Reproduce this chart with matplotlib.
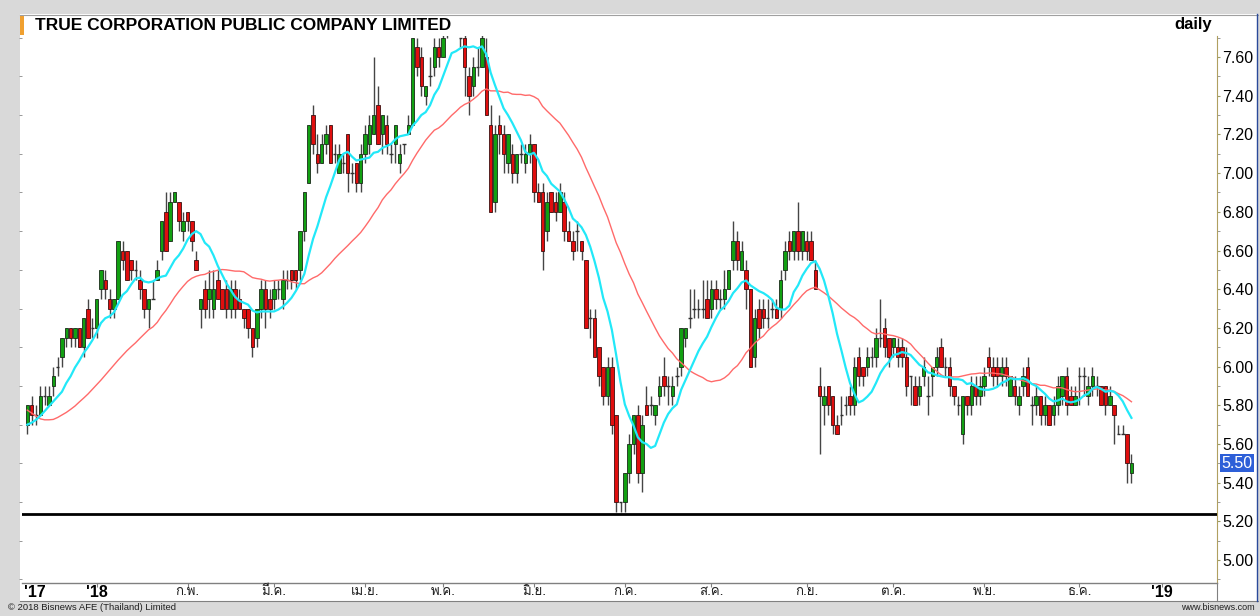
import numpy as np
import pandas as pd
import matplotlib
matplotlib.use("Agg")
import matplotlib.pyplot as plt
from matplotlib import font_manager, ft2font
from matplotlib.patches import Rectangle
from matplotlib.lines import Line2D

# ---------------- data ----------------
title = "TRUE CORPORATION PUBLIC COMPANY LIMITED"
period = "daily"

opens = [
    5.70,5.80,5.75,5.75,5.85,5.80,5.90,6.00,6.05,6.15,6.20,6.15,6.20,6.10,6.30,6.20,
    6.20,6.40,6.45,6.35,6.30,6.35,6.60,6.60,6.55,6.50,6.45,6.40,6.30,6.35,6.45,6.60,
    6.80,6.65,6.85,6.85,6.70,6.80,6.75,6.55,6.30,6.40,6.35,6.30,6.45,6.40,6.40,6.30,
    6.40,6.35,6.30,6.30,6.20,6.15,6.30,6.40,6.35,6.35,6.40,6.35,6.45,6.50,6.50,6.50,
    6.70,6.95,7.30,7.10,7.05,7.15,7.25,7.10,7.00,7.05,7.20,7.00,7.05,6.95,7.10,7.15,
    7.20,7.35,7.20,7.25,7.10,7.15,7.05,7.15,7.20,7.25,7.65,7.60,7.40,7.50,7.55,7.65,
    7.60,7.75,7.80,7.85,7.70,7.70,7.50,7.45,7.55,7.55,7.60,7.25,6.85,7.25,7.20,7.05,
    7.10,7.00,7.10,7.05,7.10,7.15,6.90,6.90,6.70,6.90,6.85,6.80,6.85,6.70,6.65,6.70,
    6.65,6.55,6.25,6.25,6.10,6.00,5.85,6.00,5.75,5.30,5.30,5.45,5.60,5.75,5.45,5.80,
    5.80,5.75,5.85,5.95,5.90,5.85,5.95,6.00,6.15,6.25,6.30,6.30,6.30,6.35,6.30,6.40,
    6.35,6.35,6.40,6.55,6.65,6.50,6.50,6.40,6.05,6.30,6.30,6.25,6.30,6.30,6.30,6.50,
    6.65,6.60,6.70,6.60,6.65,6.65,6.50,5.90,5.80,5.90,5.85,5.70,5.75,5.80,5.85,5.80,
    6.05,6.00,6.00,6.05,6.05,6.15,6.20,6.15,6.10,6.10,6.10,6.05,5.95,5.90,5.85,5.95,
    5.85,5.95,6.00,6.10,6.00,6.00,5.90,5.80,5.65,5.85,5.80,5.90,5.85,5.90,6.05,6.00,
    6.00,5.95,6.00,5.85,5.90,5.80,5.90,6.00,5.80,5.80,5.85,5.75,5.80,5.75,5.80,5.85,
    5.95,5.85,5.80,5.95,5.95,5.85,5.90,5.90,5.90,5.90,5.80,5.80,5.65,5.65,5.65,5.45,
]
highs = [
    5.80,5.85,5.80,5.90,5.90,5.90,6.00,6.05,6.15,6.20,6.20,6.20,6.20,6.25,6.35,6.25,
    6.35,6.50,6.50,6.40,6.35,6.65,6.65,6.60,6.55,6.55,6.50,6.40,6.35,6.45,6.55,6.75,
    6.90,6.90,6.90,6.85,6.80,6.80,6.75,6.60,6.35,6.45,6.50,6.50,6.50,6.40,6.45,6.45,
    6.45,6.40,6.30,6.30,6.20,6.30,6.45,6.45,6.40,6.45,6.45,6.50,6.50,6.50,6.50,6.70,
    6.90,7.25,7.35,7.20,7.20,7.25,7.25,7.15,7.15,7.10,7.20,7.05,7.05,7.15,7.25,7.30,
    7.60,7.45,7.30,7.30,7.15,7.25,7.15,7.15,7.30,7.70,7.70,7.65,7.45,7.60,7.70,7.70,
    7.75,7.80,7.90,7.90,7.70,7.75,7.55,7.60,7.65,7.75,7.70,7.35,7.25,7.30,7.25,7.20,
    7.15,7.10,7.15,7.15,7.20,7.15,6.95,6.95,6.90,6.90,6.90,6.95,6.90,6.75,6.70,6.75,
    6.65,6.55,6.30,6.30,6.10,6.00,6.05,6.05,5.75,5.30,5.45,5.65,5.75,5.80,5.75,5.90,
    5.85,5.80,5.95,6.05,5.95,5.95,6.00,6.20,6.20,6.40,6.40,6.35,6.45,6.45,6.45,6.45,
    6.40,6.50,6.50,6.75,6.70,6.65,6.55,6.40,6.30,6.35,6.35,6.35,6.35,6.35,6.50,6.65,
    6.70,6.70,6.85,6.70,6.70,6.70,6.55,6.00,5.90,5.90,5.85,5.75,5.85,5.85,5.90,6.05,
    6.10,6.00,6.10,6.10,6.20,6.35,6.25,6.15,6.15,6.15,6.15,6.10,5.95,5.95,5.95,6.05,
    5.95,6.00,6.10,6.15,6.05,6.05,5.90,5.85,5.85,5.85,5.95,5.95,5.95,6.00,6.10,6.05,
    6.05,6.05,6.05,5.95,5.95,5.90,6.00,6.05,5.85,5.90,5.85,5.85,5.80,5.85,5.95,5.95,
    6.00,5.90,5.90,6.00,6.00,5.95,6.00,5.95,5.90,5.90,5.90,5.80,5.70,5.70,5.65,5.55,
]
lows = [
    5.65,5.70,5.70,5.75,5.80,5.80,5.85,5.95,6.00,6.10,6.10,6.10,6.10,6.05,6.15,6.15,
    6.15,6.35,6.35,6.25,6.25,6.35,6.50,6.45,6.45,6.45,6.35,6.25,6.20,6.35,6.45,6.55,
    6.60,6.65,6.85,6.70,6.65,6.70,6.60,6.50,6.20,6.25,6.25,6.25,6.35,6.30,6.25,6.25,
    6.25,6.30,6.20,6.15,6.05,6.10,6.25,6.20,6.25,6.30,6.35,6.30,6.40,6.40,6.40,6.45,
    6.65,6.95,7.10,7.00,7.05,7.10,7.05,7.05,7.00,7.00,6.90,6.95,6.90,6.90,7.05,7.10,
    7.20,7.15,7.10,7.10,7.05,7.05,7.00,7.10,7.20,7.25,7.50,7.40,7.35,7.45,7.50,7.55,
    7.60,7.70,7.75,7.75,7.65,7.40,7.30,7.40,7.50,7.55,7.30,6.80,6.80,7.10,7.00,7.00,
    6.95,6.95,7.05,7.00,7.05,6.85,6.85,6.50,6.65,6.80,6.75,6.80,6.65,6.65,6.55,6.60,
    6.55,6.20,6.15,6.05,5.90,5.80,5.80,5.65,5.25,5.25,5.25,5.40,5.55,5.40,5.35,5.75,
    5.75,5.70,5.80,5.85,5.80,5.80,5.90,5.95,6.10,6.20,6.25,6.25,6.25,6.25,6.25,6.30,
    6.30,6.30,6.40,6.50,6.50,6.50,6.30,6.00,6.00,6.15,6.20,6.20,6.25,6.25,6.25,6.45,
    6.55,6.55,6.55,6.55,6.55,6.55,6.40,5.55,5.70,5.75,5.65,5.65,5.70,5.75,5.75,5.75,
    5.90,5.90,5.95,6.00,6.00,6.10,6.05,6.00,6.05,6.00,6.00,5.85,5.80,5.80,5.80,5.90,
    5.75,5.85,5.95,6.00,5.95,5.85,5.80,5.75,5.60,5.75,5.75,5.80,5.80,5.85,5.95,5.90,
    5.90,5.90,5.90,5.85,5.80,5.75,5.85,5.85,5.70,5.75,5.70,5.70,5.70,5.70,5.75,5.80,
    5.75,5.80,5.80,5.80,5.85,5.80,5.85,5.85,5.80,5.75,5.80,5.60,5.65,5.65,5.40,5.40,
]
closes = [
    5.80,5.75,5.75,5.85,5.85,5.85,5.95,6.00,6.15,6.20,6.15,6.20,6.10,6.25,6.15,6.20,
    6.35,6.50,6.40,6.30,6.35,6.65,6.55,6.45,6.50,6.50,6.40,6.30,6.35,6.35,6.50,6.75,
    6.60,6.85,6.90,6.75,6.75,6.75,6.65,6.50,6.35,6.30,6.40,6.40,6.35,6.30,6.30,6.40,
    6.30,6.30,6.25,6.20,6.10,6.30,6.40,6.30,6.30,6.40,6.40,6.45,6.45,6.45,6.45,6.70,
    6.90,7.25,7.15,7.05,7.15,7.20,7.05,7.10,7.10,7.05,7.00,7.00,6.95,7.10,7.20,7.25,
    7.30,7.15,7.30,7.15,7.10,7.25,7.10,7.15,7.25,7.70,7.55,7.45,7.45,7.50,7.65,7.60,
    7.70,7.75,7.85,7.80,7.70,7.55,7.40,7.55,7.55,7.70,7.30,6.80,7.20,7.20,7.10,7.20,
    7.00,7.10,7.10,7.10,7.15,6.90,6.85,6.60,6.85,6.80,6.80,6.90,6.70,6.65,6.60,6.70,
    6.60,6.20,6.25,6.05,5.95,5.85,6.00,5.70,5.30,5.30,5.45,5.60,5.75,5.45,5.70,5.75,
    5.80,5.80,5.90,5.90,5.90,5.90,5.95,6.20,6.20,6.25,6.30,6.30,6.30,6.25,6.40,6.35,
    6.35,6.40,6.50,6.65,6.55,6.60,6.40,6.00,6.25,6.20,6.25,6.25,6.30,6.25,6.45,6.60,
    6.60,6.70,6.60,6.70,6.60,6.55,6.40,5.85,5.85,5.80,5.70,5.65,5.75,5.80,5.80,6.00,
    5.95,5.95,6.05,6.05,6.15,6.15,6.10,6.05,6.15,6.05,6.05,5.90,5.95,5.80,5.90,6.00,
    5.85,6.00,6.05,6.00,6.00,5.90,5.85,5.80,5.85,5.80,5.90,5.85,5.90,5.95,6.00,5.95,
    5.95,6.00,5.95,5.95,5.85,5.85,5.95,5.85,5.80,5.85,5.75,5.80,5.70,5.80,5.90,5.95,
    5.80,5.80,5.85,5.95,5.95,5.90,5.95,5.90,5.80,5.80,5.85,5.75,5.65,5.65,5.50,5.50,
]

# moving-average values at the start of the chart, where the averages still
# depend on earlier (unshown) sessions
ma_fast_head = [5.70, 5.71, 5.725, 5.745, 5.77, 5.795, 5.82, 5.845, 5.87]
ma_slow_head = [5.775, 5.76, 5.745, 5.73, 5.725, 5.725, 5.727, 5.737, 5.75,
                5.763, 5.779, 5.796, 5.817, 5.837, 5.858, 5.882, 5.906, 5.93,
                5.956, 5.982, 6.008, 6.034, 6.058, 6.082, 6.103, 6.123, 6.146,
                6.168, 6.19]
ma_fast_window = 10
ma_slow_window = 30

# first trading day of each month (candle index) and its label
month_pos = [16, 37, 57, 78, 96, 117, 138, 158, 180, 200, 221, 243, 262]
month_labels = ["'18", "ก.พ.", "มี.ค.", "เม.ย.", "พ.ค.", "มิ.ย.", "ก.ค.",
                "ส.ค.", "ก.ย.", "ต.ค.", "พ.ย.", "ธ.ค.", "'19"]
start_label = "'17"
price_ticks = [5.00, 5.20, 5.40, 5.60, 5.80, 6.00, 6.20, 6.40, 6.60, 6.80,
               7.00, 7.20, 7.40, 7.60]
support_level = 5.24
footer_left = "© 2018 Bisnews AFE (Thailand) Limited"
footer_right = "www.bisnews.com"

assert len(opens) == len(highs) == len(lows) == len(closes)

# ---------------- fonts ----------------
def find_thai_font():
    preferred = []
    others = []
    for fe in font_manager.fontManager.ttflist:
        try:
            f = ft2font.FT2Font(fe.fname)
            if 0x0E01 in f.get_charmap():
                if "Sans" in fe.name or "Loma" in fe.name:
                    preferred.append(fe.name)
                else:
                    others.append(fe.name)
        except Exception:
            pass
    lst = preferred + others
    return lst[0] if lst else None

thai_font = find_thai_font()
base_font = "Liberation Sans"
thai_family = [thai_font, base_font] if thai_font else [base_font, "DejaVu Sans"]
plt.rcParams['font.family'] = [base_font, "DejaVu Sans"]

# ---------------- figure ----------------
W, H = 1260, 616
fig = plt.figure(figsize=(W / 100, H / 100), dpi=100, facecolor="#d9d9d9")

def fx(x):
    return x / W

def fy(y):
    return 1 - y / H

def frect(x0, y0, x1, y1, **kw):
    fig.add_artist(Rectangle((fx(x0), fy(y1)), fx(x1) - fx(x0), fy(y0) - fy(y1),
                             transform=fig.transFigure, **kw))

def fline(xs, ys, **kw):
    fig.add_artist(Line2D([fx(v) for v in xs], [fy(v) for v in ys],
                          transform=fig.transFigure, **kw))

# white panel
frect(20, 14, 1258, 601, facecolor="white", edgecolor="none", zorder=0)
# title bar marker
frect(20, 15, 24, 35, facecolor="#f0a030", edgecolor="none", zorder=1)
fline([20, 1258], [14.5, 14.5], color="#a0a0a0", lw=0.8)
# bottom label band lines
fline([20, 1258], [600.5, 600.5], color="#808080", lw=0.8)
# right border
fline([1257, 1257], [14, 601], color="#2a4a9a", lw=1.0)
fline([1217, 1217], [583, 601], color="#808080", lw=0.8)

fig.text(fx(35), fy(25), title, fontsize=12.5, fontweight="bold",
         ha="left", va="center", color="black")
fig.text(fx(1212), fy(25), period, fontsize=12, fontweight="bold",
         ha="right", va="center", color="black")
fig.text(fx(8), fy(608), footer_left, fontsize=6.8, ha="left", va="center",
         color="#202020")
fig.text(fx(1255), fy(608), footer_right, fontsize=6.5, ha="right", va="center",
         color="#202020")

# ---------------- axes ----------------
left_px, right_px, top_px, bot_px = 22, 1217, 36, 583
ax = fig.add_axes([fx(left_px), fy(bot_px), fx(right_px) - fx(left_px),
                   fy(top_px) - fy(bot_px)])
ax.set_facecolor("white")

o = np.array(opens); h = np.array(highs); l = np.array(lows); c = np.array(closes)
n = len(c)
x = np.arange(n)
px_per_candle = 4.33
x0_px = 27.3
ax.set_xlim((left_px - x0_px) / px_per_candle, (right_px - x0_px) / px_per_candle)
ppu = 193.5
ax.set_ylim(7.60 - (bot_px - 57) / ppu, 7.60 - (top_px - 57) / ppu)

# moving averages
s = pd.Series(c)
ma_fast = s.rolling(ma_fast_window).mean().to_numpy()
ma_slow = s.rolling(ma_slow_window).mean().to_numpy()
ma_fast[:len(ma_fast_head)] = ma_fast_head
ma_slow[:len(ma_slow_head)] = ma_slow_head

# wicks
ax.vlines(x, l, h, color="#454545", lw=1.0, zorder=2)
up = c > o
down = c < o
doji = c == o
bw = 0.8
ax.bar(x[up], (c - o)[up], bottom=o[up], width=bw, color="#12a012",
       edgecolor="#1a2a1a", linewidth=0.6, zorder=3)
ax.bar(x[down], (o - c)[down], bottom=c[down], width=bw, color="#e00e0e",
       edgecolor="#3a1010", linewidth=0.6, zorder=3)
ax.hlines(c[doji], x[doji] - bw / 2, x[doji] + bw / 2, color="#303030", lw=1.0,
          zorder=3)

ax.plot(x, ma_slow, color="#ff6a6a", lw=1.0, zorder=4)
ax.plot(x, ma_fast, color="#22e8f8", lw=1.6, zorder=5)

ax.axhline(support_level, color="black", lw=2.0, zorder=6)

# y axis on the right
ax.yaxis.tick_right()
ax.set_yticks(price_ticks)
ax.set_yticklabels([f"{v:.2f}" for v in price_ticks], fontsize=11.5)
ax.tick_params(axis="y", which="major", length=2, width=0.8, color="#999966",
               pad=1.8, right=True, left=False)
ax.set_yticks(np.arange(4.90, 7.71, 0.1), minor=True)
ax.tick_params(axis="y", which="minor", length=2, width=0.6, color="#888888",
               left=True, right=True)

# x axis ticks
ax.set_xticks(month_pos)
ax.set_xticklabels([])
ax.tick_params(axis="x", length=3, width=0.8, color="#808080", direction="out")

for p, lab in zip(month_pos, month_labels):
    if lab.startswith("'"):
        ax.text(p, -0.017, lab, transform=ax.get_xaxis_transform(), ha="center",
                va="center", fontsize=11.5, fontweight="bold", color="black")
    else:
        ax.text(p, -0.017, lab, transform=ax.get_xaxis_transform(), ha="center",
                va="center", fontsize=9.5, family=thai_family, color="#202020")
ax.text(-0.7, -0.017, start_label, transform=ax.get_xaxis_transform(),
        ha="left", va="center", fontsize=11.5, fontweight="bold", color="black")

# last price tag
ax.text(1.0035, c[-1], f"{c[-1]:.2f}", transform=ax.get_yaxis_transform(),
        ha="left", va="center", fontsize=11.5, color="white",
        bbox=dict(boxstyle="square,pad=0.1", facecolor="#2d5fd8",
                  edgecolor="none"), zorder=10, clip_on=False)

for side in ["top", "left"]:
    ax.spines[side].set_visible(False)
ax.spines["right"].set_linestyle((0, (1, 1)))
ax.spines["right"].set_color("#b0a060")
ax.spines["right"].set_linewidth(0.8)
ax.spines["bottom"].set_color("#808080")
ax.spines["bottom"].set_linewidth(1.0)

fig.savefig("out.png", dpi=100, facecolor=fig.get_facecolor())
